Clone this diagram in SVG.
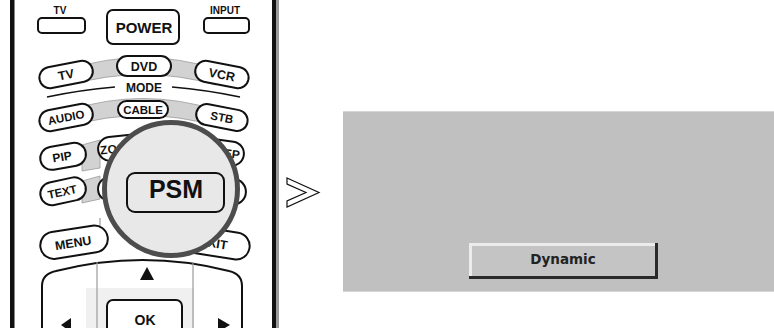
<svg xmlns="http://www.w3.org/2000/svg" width="774" height="328" viewBox="0 0 774 328">
<style>
.lbl{font-family:"Liberation Sans",Arial,sans-serif;font-weight:bold;fill:#111;text-anchor:middle}
.pill{fill:#fff;stroke:#111;stroke-width:2}
.band{fill:#d2d2d2;stroke:#999;stroke-width:0.8}
.gline{stroke:#9a9a9a;stroke-width:1.2;fill:none}
.tri{fill:#111}
</style>
<rect width="774" height="328" fill="#fff"/>
<g id="remote">
  <rect x="10" y="0" width="4" height="328" fill="#111"/>
  <rect x="14" y="0" width="1" height="328" fill="#888"/>
  <rect x="272" y="0" width="4" height="328" fill="#111"/>
  <rect x="276" y="0" width="3" height="328" fill="#999"/>
</g>
<g id="btn-tv-top">
  <text class="lbl" x="60" y="14" font-size="10">TV</text>
  <rect class="pill" x="38" y="18" width="47" height="15" rx="4"/>
</g>
<g id="btn-power">
  <rect class="pill" x="107" y="10" width="72" height="34" rx="6"/>
  <text class="lbl" x="144" y="33" font-size="15">POWER</text>
</g>
<g id="btn-input">
  <text class="lbl" x="225" y="14" font-size="10">INPUT</text>
  <rect class="pill" x="204" y="18" width="45" height="15" rx="4"/>
</g>
<g id="mode-row">
  <path class="band" d="M70 69 Q143 46 216 69 L216 85 Q143 64 70 85 Z"/>
  <g transform="rotate(-11 66 74)"><rect class="pill" x="39" y="64" width="54" height="21" rx="10.5"/><text class="lbl" x="66" y="79" font-size="12.5">TV</text></g>
  <rect class="pill" x="117" y="56" width="54" height="20" rx="10"/>
  <text class="lbl" x="144" y="71" font-size="12.5">DVD</text>
  <g transform="rotate(11 222 74)"><rect class="pill" x="195" y="64" width="54" height="21" rx="10.5"/><text class="lbl" x="222" y="79" font-size="12.5">VCR</text></g>
  <text class="lbl" x="144" y="92" font-size="12">MODE</text>
  <path d="M47 97 Q80 90 115 87" stroke="#111" stroke-width="1.5" fill="none"/>
  <path d="M172 87 Q207 90 240 97" stroke="#111" stroke-width="1.5" fill="none"/>
</g>
<g id="source-row">
  <path class="band" d="M70 110 Q143 87 216 110 L216 126 Q143 105 70 126 Z"/>
  <g transform="rotate(-11 66 117)"><rect class="pill" x="39" y="107" width="54" height="21" rx="10.5"/><text class="lbl" x="66" y="121.5" font-size="11.5">AUDIO</text></g>
  <rect class="pill" x="118" y="101" width="50" height="17" rx="8.5"/>
  <text class="lbl" x="143" y="114" font-size="11.5" font-weight="normal">CABLE</text>
  <g transform="rotate(11 222 117)"><rect class="pill" x="196" y="107" width="52" height="21" rx="10.5"/><text class="lbl" x="222" y="121.5" font-size="11.5">STB</text></g>
</g>
<g id="pip-row">
  <polygon points="82,145 100,140 100,168 82,171" fill="#d2d2d2" stroke="#999" stroke-width="0.8"/>
  <g transform="rotate(-10 62 156)"><rect class="pill" x="40" y="145" width="46" height="23" rx="11.5"/><text class="lbl" x="62" y="161" font-size="12">PIP</text></g>
  <g transform="rotate(-6 128 147)"><rect class="pill" x="98" y="135" width="60" height="24" rx="12"/><text class="lbl" x="113" y="151.5" font-size="12">ZOO</text></g>
  <g transform="rotate(8 220 152)"><rect class="pill" x="196" y="140" width="48" height="24" rx="12"/><text class="lbl" x="232" y="156.5" font-size="12">EP</text></g>
</g>
<g id="text-row">
  <polygon points="82,181 100,176 100,199 82,203" fill="#d2d2d2" stroke="#999" stroke-width="0.8"/>
  <g transform="rotate(-12 62 191)"><rect class="pill" x="40" y="180" width="46" height="23" rx="11.5"/><text class="lbl" x="62" y="196" font-size="11.5">TEXT</text></g>
  <g transform="rotate(-4 125 188)"><rect class="pill" x="98" y="176" width="55" height="24" rx="12"/></g>
  <g transform="rotate(4 222 190)"><rect class="pill" x="198" y="178" width="48" height="26" rx="13"/></g>
</g>
<g id="menu-row">
  <line class="gline" x1="100" y1="218" x2="100" y2="246"/>
  <g transform="rotate(-9 72 242)"><rect class="pill" x="40" y="229" width="68" height="27" rx="13.5"/><text class="lbl" x="73" y="247.5" font-size="12.5">MENU</text></g>
  <g transform="rotate(9 214 242)"><rect class="pill" x="178" y="229" width="72" height="27" rx="13.5"/><text class="lbl" x="218" y="247.5" font-size="12.5">XIT</text></g>
</g>
<g id="nav-pad">
  <path d="M42 328 V286 Q42 274 56 271 Q143 249 229 271 Q242 274 242 286 V328" fill="#fff" stroke="#111" stroke-width="2"/>
  <rect x="86" y="288" width="108" height="40" fill="#f0f0f0"/>
  <line class="gline" x1="97" y1="262" x2="97" y2="328"/>
  <line class="gline" x1="193" y1="262" x2="193" y2="328"/>
  <polygon class="tri" points="140,280 147,267 154,280"/>
  <rect class="pill" x="107" y="300" width="75" height="40" rx="6"/>
  <text class="lbl" x="145" y="325" font-size="14">OK</text>
  <polygon class="tri" points="61,325 71,318 71,332"/>
  <polygon class="tri" points="230,325 218,318 218,332"/>
</g>
<g id="magnifier">
  <circle cx="171" cy="189" r="66.5" fill="#e8e8e8" stroke="#4d4d4d" stroke-width="5"/>
  <rect x="127" y="173" width="97" height="39" rx="8" fill="#e8e8e8" stroke="#111" stroke-width="2"/>
  <text class="lbl" x="176" y="198" font-size="25">PSM</text>
</g>
<g id="connectors">
  <polygon points="287,178 319,192.5 287,207 287,201 306,192.5 287,184" fill="#fff" stroke="#111" stroke-width="1.2" stroke-linejoin="miter"/>
</g>
<g id="screen">
  <rect x="343" y="111" width="431" height="181" fill="#c0c0c0"/>
  <rect x="343" y="111" width="431" height="1" fill="#d6d6d6"/>
  <rect x="343" y="291" width="431" height="1" fill="#d6d6d6"/>
  <g id="btn-dynamic">
    <rect x="469" y="243" width="189" height="36" fill="#c4c4c4"/>
    <rect x="469" y="243" width="189" height="3" fill="#ececec"/>
    <rect x="469" y="243" width="3" height="36" fill="#ececec"/>
    <rect x="469" y="276" width="189" height="3" fill="#2a2a2a"/>
    <rect x="655" y="243" width="3" height="36" fill="#2a2a2a"/>
    <text x="563" y="264" font-family="DejaVu Sans, sans-serif" font-weight="bold" font-size="13.5" fill="#222" text-anchor="middle">Dynamic</text>
  </g>
</g>
</svg>
